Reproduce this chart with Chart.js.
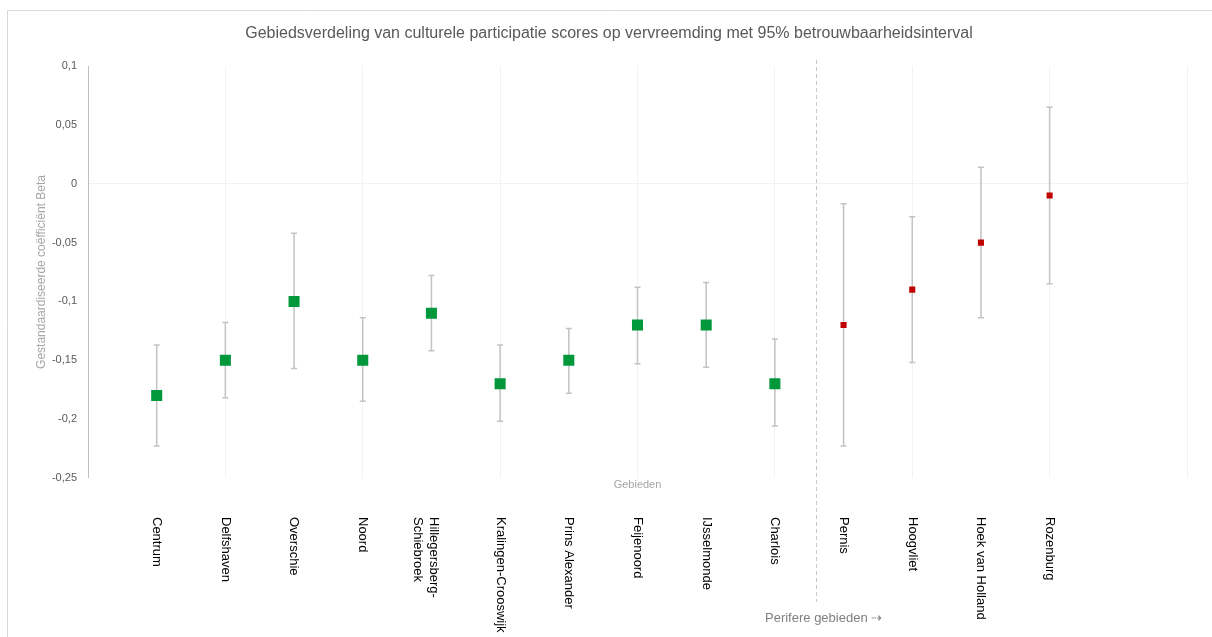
<!DOCTYPE html>
<html>
<head>
<meta charset="utf-8">
<script src="https://cdn.jsdelivr.net/npm/chart.js@4"></script>
<style>
  html, body { margin: 0; padding: 0; background: #fff; }
  #wrap { width: 1212px; height: 637px; position: relative; }
</style>
</head>
<body>
<div id="wrap"><canvas id="chart"></canvas></div>
<script>
// data
var gebieden = ['Centrum', 'Delfshaven', 'Overschie', 'Noord', 'Hillegersberg-\nSchiebroek',
    'Kralingen-Crooswijk', 'Prins Alexander', 'Feijenoord', 'IJsselmonde', 'Charlois',
    'Pernis', 'Hoogvliet', 'Hoek van Holland', 'Rozenburg'];
var xPos = [0.5, 1, 1.5, 2, 2.5, 3, 3.5, 4, 4.5, 5, 5.5, 6, 6.5, 7];
var beta = [-0.18, -0.15, -0.10, -0.15, -0.11, -0.17, -0.15, -0.12, -0.12, -0.17, -0.12, -0.09, -0.05, -0.01];
var ciHigh = [-0.137, -0.118, -0.042, -0.114, -0.078, -0.137, -0.123, -0.088, -0.084, -0.132, -0.017, -0.028, 0.014, 0.065];
var ciLow = [-0.223, -0.182, -0.157, -0.185, -0.142, -0.202, -0.178, -0.153, -0.156, -0.206, -0.223, -0.152, -0.114, -0.085];
var periferStart = 10;   // first index of the peripheral areas
var scheiding = 5.3;     // x of the dashed divider

var centraal = [], perifeer = [];
for (var i = 0; i < gebieden.length; i++) {
    var p = { x: xPos[i], y: beta[i] };
    if (i < periferStart) centraal.push(p); else perifeer.push(p);
}

var foutbalken = {
    id: 'foutbalken',
    beforeDatasetsDraw: function (chart) {
        var c = chart.ctx, xs = chart.scales.x, ys = chart.scales.y;
        c.save();
        c.strokeStyle = '#c3c3c3';
        c.lineWidth = 1.5;
        for (var i = 0; i < xPos.length; i++) {
            var x = xs.getPixelForValue(xPos[i]);
            var yt = ys.getPixelForValue(ciHigh[i]);
            var yb = ys.getPixelForValue(ciLow[i]);
            c.beginPath();
            c.moveTo(x, yt); c.lineTo(x, yb);
            c.moveTo(x - 3, yt); c.lineTo(x + 3, yt);
            c.moveTo(x - 3, yb); c.lineTo(x + 3, yb);
            c.stroke();
        }
        c.restore();
    }
};

var extra = {
    id: 'extra',
    beforeDraw: function (chart) {
        var c = chart.ctx;
        c.save();
        c.strokeStyle = '#d9d9d9';
        c.lineWidth = 1;
        c.beginPath();
        c.moveTo(7.5, 637); c.lineTo(7.5, 10.5); c.lineTo(1212, 10.5);
        c.stroke();
        c.restore();
    },
    afterDraw: function (chart) {
        var c = chart.ctx, xs = chart.scales.x;
        c.save();
        // dashed divider
        var xd = Math.round(xs.getPixelForValue(scheiding)) + 0.5;
        c.strokeStyle = '#c8c8c8';
        c.lineWidth = 1;
        c.setLineDash([4, 3]);
        c.beginPath();
        c.moveTo(xd, 60); c.lineTo(xd, 602);
        c.stroke();
        c.setLineDash([]);
        // area names, rotated
        c.fillStyle = '#000';
        c.font = '13px "Liberation Sans", Arial, sans-serif';
        c.textAlign = 'left';
        c.textBaseline = 'middle';
        for (var i = 0; i < gebieden.length; i++) {
            var x = xs.getPixelForValue(xPos[i]);
            var lines = gebieden[i].split('\n');
            for (var j = 0; j < lines.length; j++) {
                var off = (lines.length - 1) * 2 - j * 16;
                c.save();
                c.translate(x + off, 517);
                c.rotate(Math.PI / 2);
                c.fillText(lines[j], 0, 0);
                c.restore();
            }
        }
        c.fillStyle = '#808080';
        c.textAlign = 'left';
        c.fillText('Perifere gebieden \u21e2', 765, 618);
        c.restore();
    }
};

new Chart(document.getElementById('chart'), {
    type: 'scatter',
    data: {
        datasets: [{
            label: 'Centrale gebieden',
            data: centraal,
            pointStyle: 'rect',
            pointRadius: 7.8,
            pointHoverRadius: 7.8,
            backgroundColor: '#00983a',
            borderWidth: 0
        }, {
            label: 'Perifere gebieden',
            data: perifeer,
            pointStyle: 'rect',
            pointRadius: 4.3,
            pointHoverRadius: 4.3,
            backgroundColor: '#c00000',
            borderWidth: 0
        }]
    },
    options: {
        responsive: true,
        maintainAspectRatio: false,
        animation: false,
        layout: { padding: { left: 31, right: 25, top: 0, bottom: 145 } },
        plugins: {
            legend: { display: false },
            tooltip: { enabled: false },
            title: {
                display: true,
                text: 'Gebiedsverdeling van culturele participatie scores op vervreemding met 95% betrouwbaarheidsinterval',
                color: '#595959',
                font: { family: '"Liberation Sans", Arial, sans-serif', size: 16, weight: 'normal' },
                padding: { top: 24, bottom: 23 }
            }
        },
        scales: {
            x: {
                type: 'linear',
                min: 0,
                max: 8,
                ticks: { display: false, stepSize: 1 },
                grid: { color: '#f2f2f2', drawTicks: false },
                border: { display: false },
                title: {
                    display: true,
                    text: 'Gebieden',
                    color: '#a6a6a6',
                    font: { family: '"Liberation Sans", Arial, sans-serif', size: 11 },
                    padding: { top: 1, bottom: 0 }
                }
            },
            y: {
                min: -0.25,
                max: 0.1,
                afterFit: function (scale) { scale.width = 57; },
                ticks: {
                    stepSize: 0.05,
                    padding: 11,
                    color: '#595959',
                    font: { family: '"Liberation Sans", Arial, sans-serif', size: 11 },
                    callback: function (v) {
                        var r = Math.round(v * 100) / 100;
                        return String(r).replace('.', ',');
                    }
                },
                grid: {
                    drawTicks: false,
                    color: function (ctx) { return ctx.tick && Math.abs(ctx.tick.value) < 1e-9 ? '#f2f2f2' : 'rgba(0,0,0,0)'; }
                },
                border: { display: true, color: '#bfbfbf' },
                title: {
                    display: true,
                    text: 'Gestandaardiseerde coëfficiënt Beta',
                    color: '#a6a6a6',
                    font: { family: '"Liberation Sans", Arial, sans-serif', size: 12 },
                    padding: { top: 3, bottom: 0 }
                }
            }
        }
    },
    plugins: [foutbalken, extra]
});
</script>
</body>
</html>
